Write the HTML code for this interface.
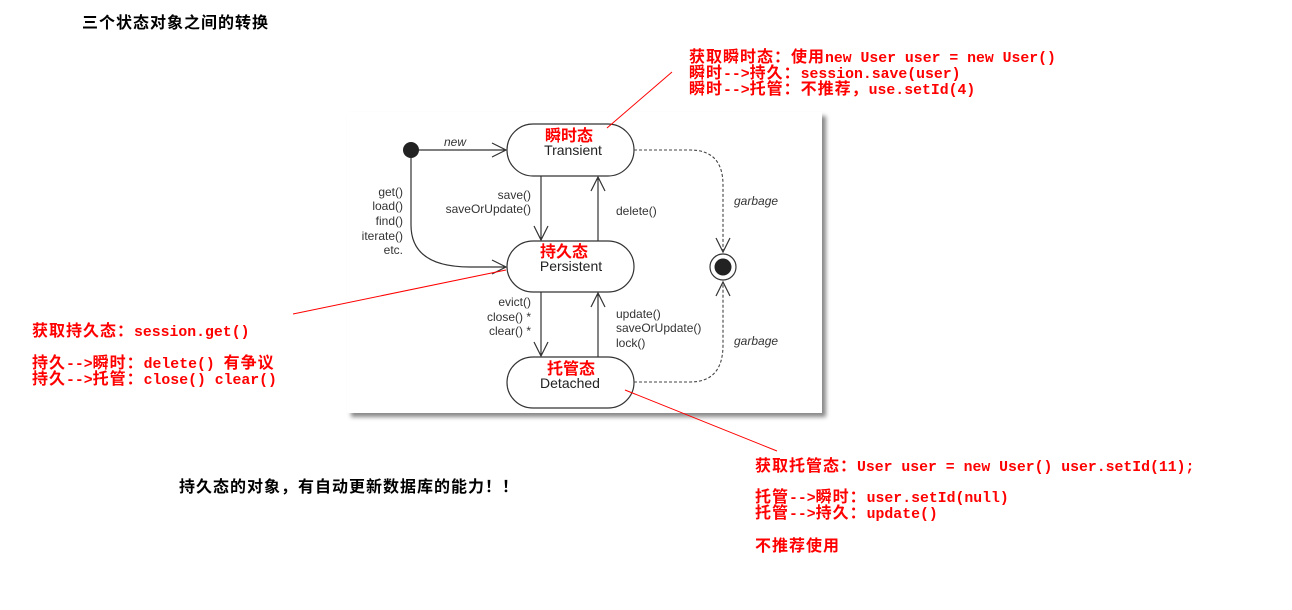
<!DOCTYPE html>
<html><head><meta charset="utf-8"><style>
body{margin:0;width:1292px;height:610px;background:#fff;position:relative;overflow:hidden}
.r{position:absolute;color:#f00;font:bold 14.8px "Liberation Mono","Noto Sans CJK SC",monospace;line-height:16px;height:16px;white-space:pre}
.c{font-family:"Noto Sans CJK SC",sans-serif;font-size:16px;letter-spacing:1px;line-height:0}
.k{position:absolute;color:#000;font:bold 16px "Noto Sans CJK SC",sans-serif;letter-spacing:1px;white-space:pre;line-height:18px}
svg{position:absolute;left:0;top:0}
</style></head><body>
<svg width="1292" height="610" font-family="Liberation Sans, sans-serif">
<defs><filter id="sh"><feGaussianBlur stdDeviation="2"/></filter></defs>
<rect x="351" y="116" width="475" height="301" fill="#888" filter="url(#sh)"/>
<rect x="347" y="112" width="475" height="301" fill="#fff"/>
<g fill="none" stroke="#333" stroke-width="1.2">
<rect x="507" y="124" width="127" height="52" rx="26"/>
<rect x="507" y="241" width="127" height="51" rx="26"/>
<rect x="507" y="357" width="127" height="51" rx="26"/>
<path d="M419 150H506M492 143l14 7-14 7"/>
<path d="M411 158V225Q411 267 470 267H506M492 260l14 7-14 7"/>
<path d="M541 176V240M534 226l7 14 7-14"/>
<path d="M598 241V177M591 191l7-14 7 14"/>
<path d="M541 292V356M534 342l7 14 7-14"/>
<path d="M598 357V293M591 307l7-14 7 14"/>
<path d="M716 238l7 14 7-14M716 296l7-14 7 14"/>
<circle cx="723" cy="267" r="13"/>
</g>
<g fill="none" stroke="#444" stroke-width="1.1" stroke-dasharray="3,2">
<path d="M634 150H690Q723 150 723 185V251"/>
<path d="M634 382H690Q723 382 723 345V283"/>
</g>
<circle cx="411" cy="150" r="8" fill="#222"/>
<circle cx="723" cy="267" r="8.5" fill="#222"/>
<g font-size="12" fill="#333">
<text x="455" y="146" font-style="italic" text-anchor="middle">new</text>
<g text-anchor="end"><text x="403" y="196">get()</text><text x="403" y="210">load()</text><text x="403" y="225">find()</text><text x="403" y="240">iterate()</text><text x="403" y="254">etc.</text>
<text x="531" y="199">save()</text><text x="531" y="213">saveOrUpdate()</text>
<text x="531" y="306">evict()</text><text x="531" y="321">close() *</text><text x="531" y="335">clear() *</text></g>
<text x="616" y="215">delete()</text>
<text x="616" y="318">update()</text><text x="616" y="332">saveOrUpdate()</text><text x="616" y="347">lock()</text>
<text x="734" y="205" font-style="italic">garbage</text><text x="734" y="345" font-style="italic">garbage</text>
</g>
<g font-size="14" fill="#222" text-anchor="middle">
<text x="573" y="155">Transient</text><text x="571" y="271">Persistent</text><text x="570" y="388">Detached</text>
</g>
<g font-size="16" font-weight="bold" fill="#f00" text-anchor="middle" font-family="Noto Sans CJK SC, sans-serif">
<text x="569" y="141">瞬时态</text><text x="564" y="257">持久态</text><text x="571" y="374">托管态</text>
</g>
<g stroke="#f00" stroke-width="1">
<path d="M607 128L672 72"/><path d="M293 314L506 270"/><path d="M625 390L777 451"/>
</g>
</svg>
<div class="k" style="left:82px;top:12px">三个状态对象之间的转换</div>
<div class="k" style="left:179px;top:476px">持久态的对象，有自动更新数据库的能力！！</div>
<div class="r" style="left:689px;top:51px"><span class="c">获取瞬时态：使用</span>new User user = new User()</div>
<div class="r" style="left:689px;top:67px"><span class="c">瞬时</span>--><span class="c">持久：</span>session.save(user)</div>
<div class="r" style="left:689px;top:83px"><span class="c">瞬时</span>--><span class="c">托管：不推荐，</span>use.setId(4)</div>
<div class="r" style="left:32px;top:325px"><span class="c">获取持久态：</span>session.get()</div>
<div class="r" style="left:32px;top:357px"><span class="c">持久</span>--><span class="c">瞬时：</span>delete() <span class="c">有争议</span></div>
<div class="r" style="left:32px;top:373px"><span class="c">持久</span>--><span class="c">托管：</span>close() clear()</div>
<div class="r" style="left:755px;top:460px"><span class="c">获取托管态：</span>User user = new User() user.setId(11);</div>
<div class="r" style="left:755px;top:491px"><span class="c">托管</span>--><span class="c">瞬时：</span>user.setId(null)</div>
<div class="r" style="left:755px;top:507px"><span class="c">托管</span>--><span class="c">持久：</span>update()</div>
<div class="r" style="left:755px;top:540px"><span class="c">不推荐使用</span></div>
</body></html>
